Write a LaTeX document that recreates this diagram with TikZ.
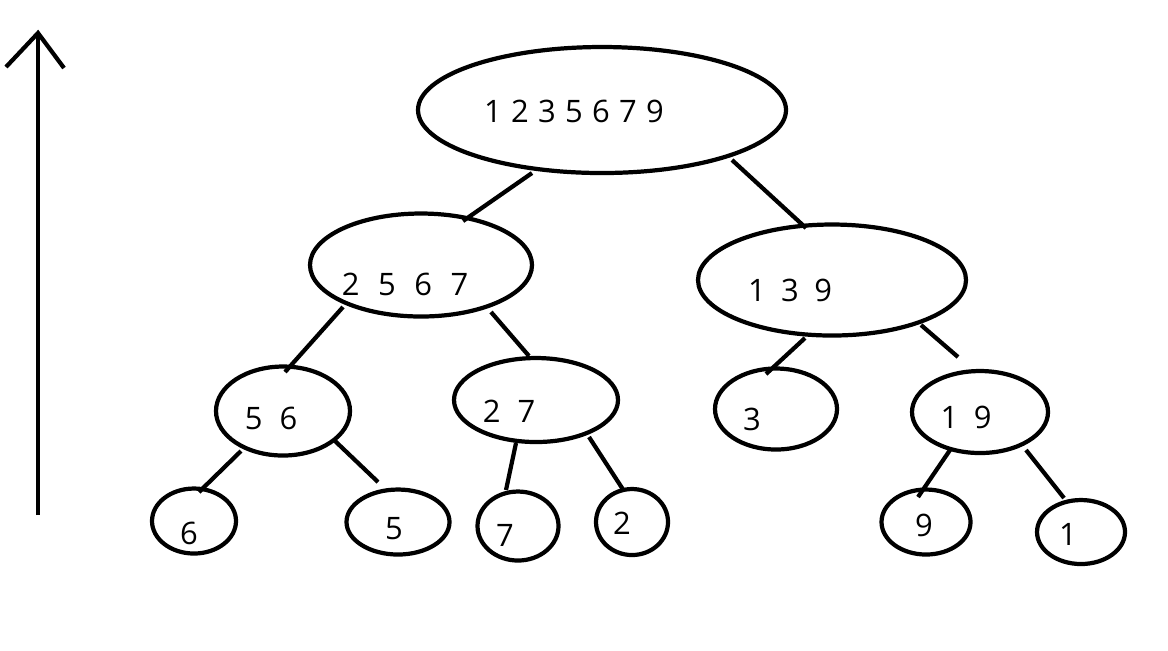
\documentclass[tikz,border=0pt]{standalone}
\usepackage{fontspec}
\setmainfont{Open Sans}
\usetikzlibrary{shapes.geometric}
\begin{document}
\begin{tikzpicture}[x=0.01cm,y=-0.01cm,
  ell/.style 2 args={draw,ellipse,line width=1.2pt,inner sep=0pt,
    minimum width=#1*0.01cm,minimum height=#2*0.01cm},
  lbl/.style={inner sep=0pt,font=\fontsize{8.8pt}{10pt}\selectfont},
  edge/.style={line width=1.2pt}]
\useasboundingbox (0,0) rectangle (1168,650);
% ellipses
\node[ell={368}{126}] (r) at (602,110) {};
\node[ell={222}{103}] (a) at (421,265) {};
\node[ell={268}{111}] (b) at (832,280) {};
\node[ell={134}{89}] (c) at (283,411) {};
\node[ell={164}{84}] (d) at (536,400) {};
\node[ell={122}{81}] (e) at (776,409) {};
\node[ell={136}{82}] (f) at (980,412) {};
\node[ell={84}{65}] (g) at (194,521) {};
\node[ell={103}{65}] (h) at (398,522) {};
\node[ell={81}{69}] (i) at (518,526) {};
\node[ell={72}{66}] (j) at (632,522) {};
\node[ell={89}{65}] (k) at (926,522) {};
\node[ell={88}{64}] (l) at (1081,532) {};
% labels
\node[lbl] (tr) at (574,111) {1\hspace{0.3em}2\hspace{0.3em}3\hspace{0.3em}5\hspace{0.3em}6\hspace{0.3em}7\hspace{0.3em}9};
\node[lbl] (ta) at (405,284) {2\hspace{0.6em}5\hspace{0.6em}6\hspace{0.6em}7};
\node[lbl] (tb) at (790,290) {1\hspace{0.5em}3\hspace{0.5em}9};
\node[lbl] (tc) at (271,418) {5\hspace{0.55em}6};
\node[lbl] (td) at (509,411) {2\hspace{0.55em}7};
\node[lbl] (te) at (752,419) {3};
\node[lbl] (tf) at (966,417) {1\hspace{0.5em}9};
\node[lbl] (tg) at (189,533) {6};
\node[lbl] (th) at (394,529) {5};
\node[lbl] (ti) at (505,535) {7};
\node[lbl] (tj) at (622,523) {2};
\node[lbl] (tk) at (924,525) {9};
\node[lbl] (tl) at (1068,534) {1};
% connector end points
\coordinate (r1) at (532,173); \coordinate (a1) at (463,221);
\coordinate (r2) at (732,160); \coordinate (b1) at (806,228);
\coordinate (a2) at (343,307); \coordinate (c1) at (285,372);
\coordinate (a3) at (491,312); \coordinate (d1) at (529,356);
\coordinate (b2) at (805,338); \coordinate (e1) at (766,374);
\coordinate (b3) at (921,325); \coordinate (bx) at (958,357);
\coordinate (c2) at (241,451); \coordinate (g1) at (199,492);
\coordinate (c3) at (334,440); \coordinate (cx) at (378,482);
\coordinate (d2) at (516,443); \coordinate (i1) at (506,490);
\coordinate (d3) at (589,437); \coordinate (j1) at (624,491);
\coordinate (f2) at (950,450); \coordinate (k1) at (918,497);
\coordinate (f3) at (1026,450); \coordinate (l1) at (1064,498);
\draw[edge] (r1) -- (a1);
\draw[edge] (r2) -- (b1);
\draw[edge] (a2) -- (c1);
\draw[edge] (a3) -- (d1);
\draw[edge] (b2) -- (e1);
\draw[edge] (b3) -- (bx);
\draw[edge] (c2) -- (g1);
\draw[edge] (c3) -- (cx);
\draw[edge] (d2) -- (i1);
\draw[edge] (d3) -- (j1);
\draw[edge] (f2) -- (k1);
\draw[edge] (f3) -- (l1);
% arrow
\coordinate (ab) at (38,515); \coordinate (at) at (38,33);
\coordinate (al) at (6,67); \coordinate (ar) at (64,68);
\draw[edge] (ab) -- (at);
\draw[edge,line join=miter] (al) -- (at) -- (ar);
\end{tikzpicture}
\end{document}
